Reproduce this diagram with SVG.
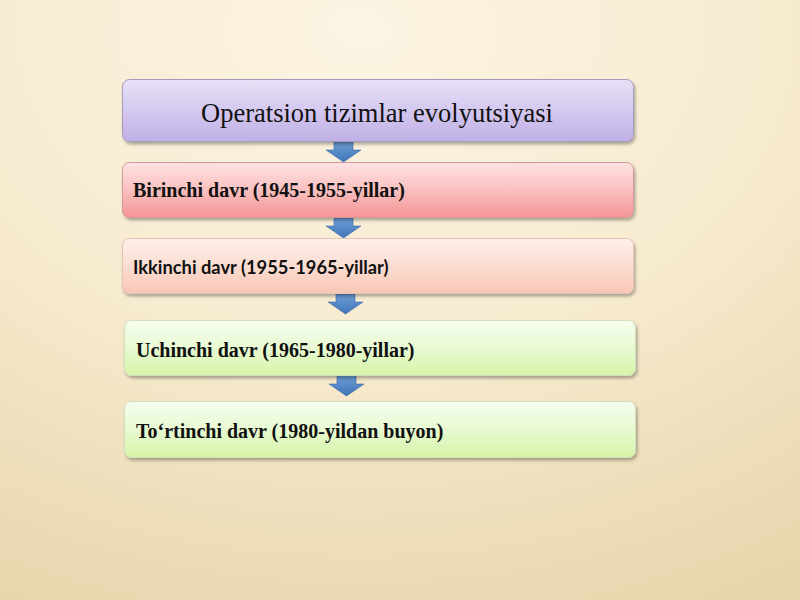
<svg xmlns="http://www.w3.org/2000/svg" width="800" height="600" viewBox="0 0 800 600">
<defs>
<radialGradient id="bg" cx="0.45" cy="0.05" r="1.05">
<stop offset="0" stop-color="#fcf4e3"/>
<stop offset="0.5" stop-color="#f7ebd0"/>
<stop offset="1" stop-color="#e7d5ac"/>
</radialGradient>
<linearGradient id="gPurple" x1="0" y1="0" x2="0" y2="1">
<stop offset="0" stop-color="#e8e0f6"/>
<stop offset="0.4" stop-color="#d8cdf1"/>
<stop offset="1" stop-color="#bfb0e6"/>
</linearGradient>
<linearGradient id="gRed" x1="0" y1="0" x2="0" y2="1">
<stop offset="0" stop-color="#fde2e2"/>
<stop offset="0.45" stop-color="#fbc4c4"/>
<stop offset="1" stop-color="#f49494"/>
</linearGradient>
<linearGradient id="gPeach" x1="0" y1="0" x2="0" y2="1">
<stop offset="0" stop-color="#fdf0ea"/>
<stop offset="0.5" stop-color="#fbddd2"/>
<stop offset="1" stop-color="#f8c6b4"/>
</linearGradient>
<linearGradient id="gGreen" x1="0" y1="0" x2="0" y2="1">
<stop offset="0" stop-color="#f6fdef"/>
<stop offset="0.5" stop-color="#e8fad2"/>
<stop offset="1" stop-color="#d6f4a8"/>
</linearGradient>
<linearGradient id="gArrow" x1="0" y1="0" x2="0" y2="1">
<stop offset="0" stop-color="#6e9fd6"/>
<stop offset="1" stop-color="#3f74b8"/>
</linearGradient>
<filter id="sh" x="-5%" y="-20%" width="110%" height="150%">
<feDropShadow dx="1.5" dy="2.5" stdDeviation="1.5" flood-color="#000" flood-opacity="0.3"/>
</filter>
</defs>
<style>
.box{stroke-width:1;filter:url(#sh)}
.serif{font-family:"Liberation Serif","Times New Roman",serif;fill:#111}
.sans{font-family:"Lato","Carlito","Liberation Sans",sans-serif;fill:#111}
.arrow{fill:url(#gArrow);stroke:#3a6aa8;stroke-width:0.6}
</style>
<rect x="0" y="0" width="800" height="600" fill="url(#bg)"/>

<g id="connectors">
<path class="arrow" d="M334,142 H353 V150 H361 L343.5,162 L326,150 H334 Z"/>
<path class="arrow" d="M334,218 H353 V226 H361 L343.5,238 L326,226 H334 Z"/>
<path class="arrow" d="M336,294 H355 V302 H363 L345.5,314 L328,302 H336 Z"/>
<path class="arrow" d="M337,375 H356 V384 H364 L346.5,396 L329,384 H337 Z"/>
</g>

<g id="node-title">
<rect class="box" x="122.5" y="79.5" width="511" height="62" rx="7" fill="url(#gPurple)" stroke="#a59bbb"/>
<text class="serif" x="377" y="122" font-size="26.5" text-anchor="middle">Operatsion tizimlar evolyutsiyasi</text>
</g>

<g id="node-birinchi">
<rect class="box" x="122.5" y="162.5" width="511" height="55" rx="7" fill="url(#gRed)" stroke="#d49a9a"/>
<text class="serif" x="133" y="197" font-size="20" font-weight="bold">Birinchi davr (1945-1955-yillar)</text>
</g>

<g id="node-ikkinchi">
<rect class="box" x="122.5" y="238.5" width="511" height="55" rx="7" fill="url(#gPeach)" stroke="#e6c2b4"/>
<text class="sans" x="133" y="274" font-size="18.3" font-weight="bold">Ikkinchi davr (1955-1965-yillar)</text>
</g>

<g id="node-uchinchi">
<rect class="box" x="124.5" y="320.5" width="511" height="55" rx="7" fill="url(#gGreen)" stroke="#cfe0bc"/>
<text class="serif" x="136" y="357" font-size="20" font-weight="bold">Uchinchi davr (1965-1980-yillar)</text>
</g>

<g id="node-tortinchi">
<rect class="box" x="124.5" y="401.5" width="511" height="56" rx="7" fill="url(#gGreen)" stroke="#cfe0bc"/>
<text class="serif" x="136" y="438" font-size="20" font-weight="bold">To‘rtinchi davr (1980-yildan buyon)</text>
</g>
</svg>
